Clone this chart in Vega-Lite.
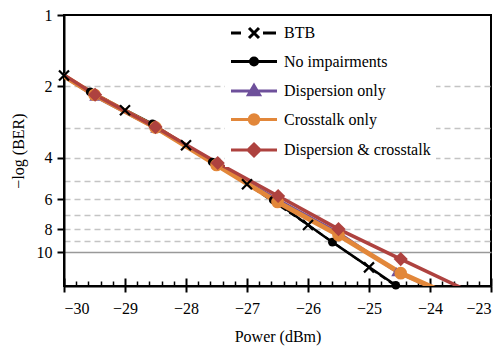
{
  "$schema": "https://vega.github.io/schema/vega-lite/v6.json",
  "width": 427,
  "height": 271,
  "autosize": {"type": "none"},
  "padding": {"left": 64, "top": 15, "right": 11, "bottom": 60},
  "background": "white",
  "config": {
    "font": "Liberation Serif",
    "view": {"stroke": "black", "strokeWidth": 2},
    "axis": {
      "labelFont": "Liberation Serif",
      "titleFont": "Liberation Serif",
      "labelFontSize": 16,
      "titleFontSize": 16,
      "titleFontWeight": "normal",
      "labelColor": "black",
      "titleColor": "black",
      "domainColor": "black",
      "domainWidth": 2,
      "tickColor": "black",
      "tickWidth": 2
    }
  },
  "datasets": {
    "ber": [
      {"series": "BTB", "power": -30, "ber": 1.8, "measured": true},
      {"series": "BTB", "power": -29, "ber": 2.52, "measured": true},
      {"series": "BTB", "power": -28, "ber": 3.54, "measured": true},
      {"series": "BTB", "power": -27, "ber": 5.17, "measured": true},
      {"series": "BTB", "power": -26, "ber": 7.69, "measured": true},
      {"series": "BTB", "power": -25, "ber": 11.6, "measured": true},
      {"series": "BTB", "power": -24.5, "ber": 14.3, "measured": false},
      {"series": "No impairments", "power": -30.3, "ber": 1.6, "measured": false},
      {"series": "No impairments", "power": -29.57, "ber": 2.11, "measured": true},
      {"series": "No impairments", "power": -28.55, "ber": 2.88, "measured": true},
      {"series": "No impairments", "power": -27.57, "ber": 4.17, "measured": true},
      {"series": "No impairments", "power": -26.57, "ber": 6.03, "measured": true},
      {"series": "No impairments", "power": -25.6, "ber": 9.08, "measured": true},
      {"series": "No impairments", "power": -24.56, "ber": 13.8, "measured": true},
      {"series": "Dispersion only", "power": -30.3, "ber": 1.62, "measured": false},
      {"series": "Dispersion only", "power": -29.5, "ber": 2.2, "measured": true},
      {"series": "Dispersion only", "power": -28.5, "ber": 3.0, "measured": true},
      {"series": "Dispersion only", "power": -27.5, "ber": 4.25, "measured": true},
      {"series": "Dispersion only", "power": -26.5, "ber": 6.0, "measured": true},
      {"series": "Dispersion only", "power": -25.5, "ber": 8.3, "measured": true},
      {"series": "Dispersion only", "power": -24.55, "ber": 12.1, "measured": true},
      {"series": "Dispersion only", "power": -23.9, "ber": 14.4, "measured": false},
      {"series": "Crosstalk only", "power": -30.3, "ber": 1.62, "measured": false},
      {"series": "Crosstalk only", "power": -29.5, "ber": 2.17, "measured": true},
      {"series": "Crosstalk only", "power": -28.5, "ber": 2.98, "measured": true},
      {"series": "Crosstalk only", "power": -27.5, "ber": 4.29, "measured": true},
      {"series": "Crosstalk only", "power": -26.5, "ber": 6.15, "measured": true},
      {"series": "Crosstalk only", "power": -25.5, "ber": 8.48, "measured": true},
      {"series": "Crosstalk only", "power": -24.48, "ber": 12.27, "measured": true},
      {"series": "Crosstalk only", "power": -23.9, "ber": 14.3, "measured": false},
      {"series": "Dispersion & crosstalk", "power": -30.3, "ber": 1.6, "measured": false},
      {"series": "Dispersion & crosstalk", "power": -29.49, "ber": 2.17, "measured": true},
      {"series": "Dispersion & crosstalk", "power": -28.5, "ber": 2.97, "measured": true},
      {"series": "Dispersion & crosstalk", "power": -27.48, "ber": 4.21, "measured": true},
      {"series": "Dispersion & crosstalk", "power": -26.49, "ber": 5.8, "measured": true},
      {"series": "Dispersion & crosstalk", "power": -25.5, "ber": 8.0, "measured": true},
      {"series": "Dispersion & crosstalk", "power": -24.48, "ber": 10.7, "measured": true},
      {"series": "Dispersion & crosstalk", "power": -23.4, "ber": 14.5, "measured": false}
    ]
  },
  "layer": [
    {
      "data": {"name": "ber"},
      "encoding": {
        "x": {
          "field": "power",
          "type": "quantitative",
          "scale": {"domain": [-30, -23], "nice": false, "zero": false},
          "axis": {
            "orient": "bottom",
            "values": [-30, -29, -28, -27, -26, -25, -24, -23],
            "format": "d",
            "tickSize": 6,
            "labelPadding": 8,
            "grid": false,
            "title": "Power (dBm)",
            "titlePadding": 12
          }
        },
        "y": {
          "field": "ber",
          "type": "quantitative",
          "scale": {"type": "log", "domain": [1, 13.9], "reverse": true, "nice": false},
          "axis": {
            "values": [1, 2, 3, 4, 5, 6, 7, 8, 9, 10],
            "format": "d",
            "labelExpr": "indexof([3,5,7,9], datum.value) >= 0 ? '' : datum.label",
            "tickSize": {"condition": {"test": "indexof([3,5,7,9], datum.value) >= 0", "value": 0}, "value": 7},
            "labelPadding": 5,
            "grid": true,
            "gridDash": {"condition": {"test": "datum.value === 10", "value": [1, 0]}, "value": [6, 4]},
            "gridColor": {"condition": {"test": "datum.value === 10", "value": "#999999"}, "value": "#c4c4c4"},
            "gridOpacity": {"condition": {"test": "datum.value === 1", "value": 0}, "value": 1},
            "gridWidth": 1.5,
            "title": "−log (BER)",
            "titlePadding": 10
          }
        }
      },
      "layer": [
        {
          "transform": [{"filter": "datum.series === 'BTB'"}],
          "mark": {"type": "line", "clip": true, "color": "black", "strokeWidth": 2, "strokeDash": [7, 4]},
          "encoding": {}
        },
        {
          "transform": [{"filter": "datum.series === 'No impairments'"}],
          "mark": {"type": "line", "clip": true, "color": "black", "strokeWidth": 2.5},
          "encoding": {}
        },
        {
          "transform": [{"filter": "datum.series === 'Dispersion only'"}],
          "mark": {"type": "line", "clip": true, "color": "#6e509b", "strokeWidth": 3},
          "encoding": {}
        },
        {
          "transform": [{"filter": "datum.series === 'Crosstalk only'"}],
          "mark": {"type": "line", "clip": true, "color": "#e2873a", "strokeWidth": 5},
          "encoding": {}
        },
        {
          "transform": [{"filter": "datum.series === 'Dispersion & crosstalk'"}],
          "mark": {"type": "line", "clip": true, "color": "#ae423f", "strokeWidth": 3.5},
          "encoding": {}
        },
        {
          "transform": [{"filter": "datum.measured && datum.series === 'No impairments'"}],
          "mark": {"type": "point", "shape": "circle", "filled": true, "opacity": 1, "color": "black", "size": 75}
        },
        {
          "transform": [{"filter": "datum.measured && datum.series === 'Dispersion only'"}],
          "mark": {"type": "point", "shape": "triangle-up", "filled": true, "opacity": 1, "color": "#6e509b", "size": 110}
        },
        {
          "transform": [{"filter": "datum.measured && datum.series === 'Crosstalk only'"}],
          "mark": {"type": "point", "shape": "circle", "filled": true, "opacity": 1, "color": "#e2873a", "size": 160}
        },
        {
          "transform": [{"filter": "datum.measured && datum.series === 'Dispersion & crosstalk'"}],
          "mark": {"type": "point", "shape": "diamond", "filled": true, "opacity": 1, "color": "#ae423f", "size": 200}
        },
        {
          "transform": [{"filter": "datum.measured && datum.series === 'BTB'"}],
          "mark": {"type": "point", "shape": "M-1,-1L1,1M-1,1L1,-1", "filled": false, "opacity": 1, "color": "black", "strokeWidth": 2.2, "size": 100}
        }
      ]
    },
    {
      "data": {"name": "ber"},
      "transform": [{"filter": "false"}],
      "mark": {"type": "point"},
      "encoding": {
        "x": {
          "field": "power",
          "type": "quantitative",
          "scale": {"domain": [-30, -23], "nice": false, "zero": false},
          "axis": {
            "orient": "bottom",
            "values": [-30, -29.8, -29.6, -29.4, -29.2, -29, -28.8, -28.6, -28.4, -28.2, -28, -27.8, -27.6, -27.4, -27.2, -27, -26.8, -26.6, -26.4, -26.2, -26, -25.8, -25.6, -25.4, -25.2, -25, -24.8, -24.6, -24.4, -24.2, -24, -23.8, -23.6, -23.4, -23.2, -23],
            "labels": false,
            "domain": false,
            "grid": false,
            "title": null,
            "tickSize": {"condition": {"test": "abs(datum.value - round(datum.value)) < 0.01", "value": -8}, "value": -5},
            "tickWidth": {"condition": {"test": "abs(datum.value - round(datum.value)) < 0.01", "value": 2}, "value": 1.5}
          }
        }
      }
    },
    {
      "data": {"name": "ber"},
      "transform": [{"filter": "false"}],
      "mark": {"type": "point", "filled": true, "opacity": 1},
      "encoding": {
        "color": {
          "field": "series",
          "type": "nominal",
          "scale": {
            "domain": ["BTB", "No impairments", "Dispersion only", "Crosstalk only", "Dispersion & crosstalk"],
            "range": ["black", "black", "#6e509b", "#e2873a", "#ae423f"]
          },
          "legend": {
            "orient": "none",
            "legendX": 161,
            "legendY": 5,
            "title": null,
            "fillColor": "white",
            "padding": 5,
            "symbolSize": 100,
            "symbolStrokeWidth": 3,
            "symbolOffset": 16,
            "labelFont": "Liberation Serif",
            "labelFontSize": 16,
            "labelColor": "black",
            "labelOffset": 22,
            "rowPadding": 7.5
          }
        },
        "stroke": {
          "field": "series",
          "type": "nominal",
          "scale": {
            "domain": ["BTB", "No impairments", "Dispersion only", "Crosstalk only", "Dispersion & crosstalk"],
            "range": ["black", "black", "#6e509b", "#e2873a", "#ae423f"]
          }
        },
        "shape": {
          "field": "series",
          "type": "nominal",
          "scale": {
            "domain": ["BTB", "No impairments", "Dispersion only", "Crosstalk only", "Dispersion & crosstalk"],
            "range": [
              "M-4.6,0H-2.6M1.8,0H4.4M-1,-1L1,1M-1,1L1,-1",
              "M-4.6,0H4.6M-0.7,0A0.7,0.7 0 1,1 0.7,0A0.7,0.7 0 1,1 -0.7,0Z",
              "M-4.6,0H4.6M0,-1.1L1.1,0.75L-1.1,0.75Z",
              "M-4.6,0H4.6M-0.95,0A0.95,0.95 0 1,1 0.95,0A0.95,0.95 0 1,1 -0.95,0Z",
              "M-4.6,0H4.6M0,-1.2L1.2,0L0,1.2L-1.2,0Z"
            ]
          }
        }
      }
    }
  ],
  "resolve": {
    "scale": {"x": "independent"},
    "axis": {"x": "independent"}
  }
}
